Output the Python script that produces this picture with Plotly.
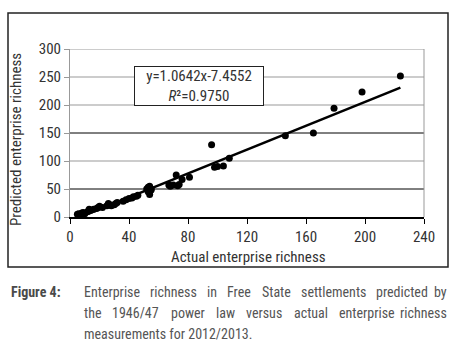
import plotly.graph_objects as go

# ---------------- data ----------------
actual = [5, 6, 7, 8, 9, 10, 12, 13, 14, 16, 18, 19, 20, 22, 25, 26, 27, 28, 30, 31, 32,
          36, 38, 40, 42, 43, 45, 46, 52, 53, 53, 54, 54, 55, 55, 67, 68, 70, 72, 73, 74,
          76, 81, 96, 98, 100, 104, 108, 146, 165, 179, 198, 224]
predicted = [5, 6, 5, 7, 8, 6, 10, 14, 12, 14, 15, 17, 19, 17, 20, 24, 22, 20, 22, 24, 26,
             28, 31, 33, 34, 36, 37, 39, 50, 53, 45, 40, 55, 50, 48, 57, 55, 57, 75, 56, 58,
             67, 71, 129, 89, 90, 91, 105, 145, 150, 194, 223, 252]
slope, intercept = 1.0642, -7.4552
trend_x = [5, 224]
trend_y = [slope * v + intercept for v in trend_x]
x_ticks = [0, 40, 80, 120, 160, 200, 240]
y_ticks = [0, 50, 100, 150, 200, 250, 300]
eq_text = "y=1.0642x-7.4552<br><i>R</i>²=0.9750"
x_title = "Actual enterprise richness"
y_title = "Predicted enterprise richness"
caption_label = "Figure 4:"
caption_lines = [
    "Enterprise richness in Free State settlements predicted by",
    "the 1946/47 power law versus actual enterprise richness",
    "measurements for 2012/2013.",
]

# ---------------- layout helpers (pixel geometry) ----------------
W, H = 456, 342
PL, PR, PT, PB = 70, 424, 49, 217          # plot area in pixels
def px(x):
    return (x - PL) / (PR - PL)
def py(y):
    return (PB - y) / (PB - PT)

FONT = "Roboto Condensed, Liberation Sans Narrow, Arial Narrow, sans-serif"
TXT = "#333333"
CAP = "#555555"
CAP_SIZE = 14

# approximate glyph advances (Roboto, units per 2048) for justified caption layout
ADV = {'a': 1114, 'b': 1124, 'c': 1047, 'd': 1128, 'e': 1058, 'f': 694, 'g': 1124,
       'h': 1102, 'i': 486, 'l': 486, 'm': 1753, 'n': 1104, 'o': 1141, 'p': 1124,
       'r': 677, 's': 1031, 't': 654, 'u': 1102, 'v': 968, 'w': 1502, 'y': 946,
       'E': 1165, 'F': 1133, 'S': 1216, '/': 824, '.': 527}
def word_w(w, size):
    return sum(ADV.get(c, 1150) for c in w) * size / 2048 * 0.9

fig = go.Figure()
fig.add_trace(go.Scatter(x=actual, y=predicted, mode="markers",
                         marker=dict(color="black", size=7), showlegend=False,
                         cliponaxis=False))
fig.add_trace(go.Scatter(x=trend_x, y=trend_y, mode="lines",
                         line=dict(color="black", width=2.5), showlegend=False))

grid_colors = {50: "black", 100: "#999999", 150: "black", 200: "#999999",
               250: "#999999", 300: "#999999"}
shapes = []
for v, c in grid_colors.items():
    shapes.append(dict(type="line", xref="paper", yref="y", x0=0, x1=1, y0=v, y1=v,
                       line=dict(color=c, width=1), layer="below"))
shapes.append(dict(type="line", xref="paper", yref="paper", x0=1, x1=1, y0=0, y1=1,
                   line=dict(color="#999999", width=1), layer="below"))
# outer frame around the chart
shapes.append(dict(type="rect", xref="paper", yref="paper",
                   x0=px(8), x1=px(448), y0=py(267), y1=py(13),
                   line=dict(color="#222222", width=1.5)))

annotations = [
    dict(text=eq_text, x=px(199), y=py(85.5), xref="paper", yref="paper",
         xanchor="center", yanchor="middle", showarrow=False, align="center",
         font=dict(family=FONT, size=15, color=TXT),
         bordercolor="#222222", borderwidth=1, bgcolor="white", borderpad=1,
         width=126, height=36),
    dict(text=x_title, x=px(248), y=py(257), xref="paper", yref="paper",
         xanchor="center", yanchor="middle", showarrow=False,
         font=dict(family=FONT, size=15, color=TXT)),
    dict(text=y_title, x=px(16), y=py(140), xref="paper", yref="paper",
         xanchor="center", yanchor="middle", showarrow=False, textangle=-90,
         font=dict(family=FONT, size=15, color=TXT)),
    dict(text="<b>" + caption_label + "</b>", x=px(9), y=py(292),
         xref="paper", yref="paper", xanchor="left", yanchor="middle", showarrow=False,
         font=dict(family=FONT, size=CAP_SIZE, color="#4a4a4a")),
]

# justified caption (lines 1-2 justified between x=82 and x=449)
LEFT, RIGHT = 82, 449
line_y = [292, 313, 334]
for i, line in enumerate(caption_lines):
    cap_font = dict(family=FONT, size=CAP_SIZE, color=CAP)
    if i < 2:
        words = line.split(" ")
        widths = [word_w(w, CAP_SIZE) for w in words]
        gap = (RIGHT - LEFT - sum(widths)) / (len(words) - 1)
        x = LEFT
        for j, (w, ww) in enumerate(zip(words, widths)):
            if j == len(words) - 1:
                annotations.append(dict(text=w, x=px(RIGHT), y=py(line_y[i]),
                                        xref="paper", yref="paper", xanchor="right",
                                        yanchor="middle", showarrow=False, font=cap_font))
            else:
                annotations.append(dict(text=w, x=px(x), y=py(line_y[i]),
                                        xref="paper", yref="paper", xanchor="left",
                                        yanchor="middle", showarrow=False, font=cap_font))
            x += ww + gap
    else:
        annotations.append(dict(text=line, x=px(LEFT), y=py(line_y[i]),
                                xref="paper", yref="paper", xanchor="left",
                                yanchor="middle", showarrow=False, font=cap_font))

fig.update_layout(
    width=W, height=H,
    margin=dict(l=PL, r=W - PR, t=PT, b=H - PB, autoexpand=False),
    paper_bgcolor="white", plot_bgcolor="white",
    font=dict(family=FONT, size=15, color=TXT),
    shapes=shapes, annotations=annotations,
    xaxis=dict(range=[0, 240], tickvals=x_ticks, showgrid=False, zeroline=False,
               showline=True, linecolor="black", linewidth=1.5, ticks="outside",
               ticklen=5, tickcolor="black", tickwidth=1, fixedrange=True,
               tickfont=dict(family=FONT, size=15, color=TXT)),
    yaxis=dict(range=[0, 300], tickvals=y_ticks, showgrid=False, zeroline=False,
               showline=True, linecolor="#999999", linewidth=1, ticks="outside",
               ticklen=5, tickcolor="#999999", fixedrange=True,
               tickfont=dict(family=FONT, size=15, color=TXT)),
)

fig.write_html("out.html", config={"displayModeBar": False},
               post_script="document.body.style.margin='0';")
